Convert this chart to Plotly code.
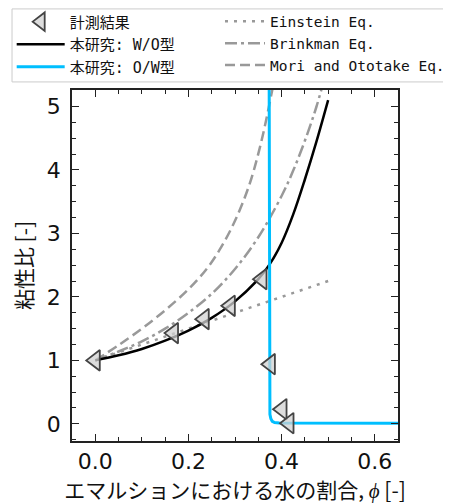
import plotly.graph_objects as go

# Measured data (計測結果)
meas_phi = [0.0, 0.168, 0.234, 0.290, 0.358, 0.376, 0.401, 0.416]
meas_eta = [1.00, 1.43, 1.65, 1.86, 2.28, 0.94, 0.23, 0.01]

# 本研究: W/O型
wo_phi = [0.0, 0.05, 0.10, 0.15, 0.20, 0.25, 0.30, 0.35, 0.375, 0.40, 0.425, 0.45, 0.475, 0.50]
wo_eta = [1.00, 1.08, 1.18, 1.31, 1.47, 1.67, 1.93, 2.28, 2.52, 2.85, 3.30, 3.85, 4.45, 5.10]

# 本研究: O/W型
ow_phi = [0.3733, 0.3736, 0.3740, 0.3750, 0.3770, 0.3800, 0.3850, 0.3950, 0.65]
ow_eta = [5.60, 0.50, 0.25, 0.15, 0.08, 0.04, 0.02, 0.012, 0.01]

# Einstein Eq.
ein_phi = [0.0, 0.5]
ein_eta = [1.0, 2.25]

# Brinkman Eq.
br_phi = [0.0, 0.05, 0.10, 0.15, 0.20, 0.25, 0.30, 0.35, 0.40, 0.425, 0.45, 0.475, 0.50]
br_eta = [1.00, 1.14, 1.30, 1.50, 1.75, 2.05, 2.44, 2.94, 3.59, 3.99, 4.46, 5.00, 5.66]

# Mori and Ototake Eq.
mo_phi = [0.0, 0.05, 0.10, 0.15, 0.20, 0.24, 0.27, 0.30, 0.33, 0.355, 0.38, 0.39]
mo_eta = [1.00, 1.24, 1.50, 1.79, 2.12, 2.45, 2.78, 3.20, 3.75, 4.40, 5.26, 5.65]

GRAY = "#999999"
LEGFONT1 = dict(family="DejaVu Sans Mono, Noto Sans CJK JP", size=15, color="#111")
LEGFONT2 = dict(family="DejaVu Sans Mono, Noto Sans CJK JP", size=14.5, color="#111")

fig = go.Figure()

fig.add_trace(go.Scatter(x=ein_phi, y=ein_eta, mode="lines", name="Einstein Eq.",
                         line=dict(color=GRAY, width=2.5, dash="3px,6px"),
                         legend="legend2", legendgroup="e"))
fig.add_trace(go.Scatter(x=br_phi, y=br_eta, mode="lines", name="Brinkman Eq.",
                         line=dict(color=GRAY, width=2.5, dash="12px,4px,3px,4px", shape="spline"),
                         legend="legend2", legendgroup="b"))
fig.add_trace(go.Scatter(x=mo_phi, y=mo_eta, mode="lines", name="Mori and Ototake Eq.",
                         line=dict(color=GRAY, width=2.5, dash="10px,5px", shape="spline"),
                         legend="legend2", legendgroup="m"))
fig.add_trace(go.Scatter(x=wo_phi, y=wo_eta, mode="lines", name="本研究: W/O型",
                         line=dict(color="black", width=2.5, shape="spline"),
                         legend="legend", legendgroup="w"))
fig.add_trace(go.Scatter(x=ow_phi, y=ow_eta, mode="lines", name="本研究: O/W型",
                         line=dict(color="#00BFFF", width=3),
                         legend="legend", legendgroup="o"))
fig.add_trace(go.Scatter(x=meas_phi, y=meas_eta, mode="markers", name="計測結果",
                         marker=dict(symbol="triangle-left", size=18,
                                     color="rgba(210,210,210,0.75)",
                                     line=dict(color="#444444", width=1.8)),
                         legend="legend", legendgroup="a", legendrank=1))

fig.update_layout(
    width=451, height=503,
    margin=dict(l=64, r=61, t=82, b=70, autoexpand=False),
    paper_bgcolor="white", plot_bgcolor="white",
    showlegend=True,
    legend=dict(x=-0.185, y=1.241, xanchor="left", yanchor="top",
                font=LEGFONT1, itemwidth=48, tracegroupgap=0,
                bgcolor="rgba(0,0,0,0)", traceorder="normal"),
    legend2=dict(x=0.454, y=1.241, xanchor="left", yanchor="top",
                 font=LEGFONT2, itemwidth=40, tracegroupgap=0,
                 bgcolor="rgba(0,0,0,0)", traceorder="normal"),
    shapes=[dict(type="rect", xref="paper", yref="paper",
                 x0=-0.184, x1=1.156, y0=1.023, y1=1.231,
                 line=dict(color="#cccccc", width=1), fillcolor="rgba(0,0,0,0)")],
)

axis_common = dict(
    showline=True, linecolor="#222", linewidth=1.5, mirror="allticks",
    ticks="inside", ticklen=7, tickwidth=1.3, tickcolor="#222",
    showgrid=False, zeroline=False,
    tickfont=dict(family="DejaVu Sans", size=22, color="#111"),
)

fig.update_xaxes(range=[-0.05, 0.65], tick0=0, dtick=0.2, tickformat=".1f",
                 minor=dict(dtick=0.05, ticks="inside", ticklen=4, tickcolor="#222", showgrid=False),
                 title=dict(text="エマルションにおける水の割合, <i>ϕ</i> [-]",
                            font=dict(family="Noto Sans CJK JP", size=21, color="#111"),
                            standoff=0),
                 ticklabelstandoff=0,
                 **axis_common)
fig.update_yaxes(range=[-0.27, 5.26], tick0=0, dtick=1,
                 minor=dict(dtick=0.25, ticks="inside", ticklen=4, tickcolor="#222", showgrid=False),
                 title=dict(text="粘性比 [-]",
                            font=dict(family="Noto Sans CJK JP", size=21, color="#111"),
                            standoff=12),
                 ticklabelstandoff=5,
                 **axis_common)

fig.write_html("out.html")
